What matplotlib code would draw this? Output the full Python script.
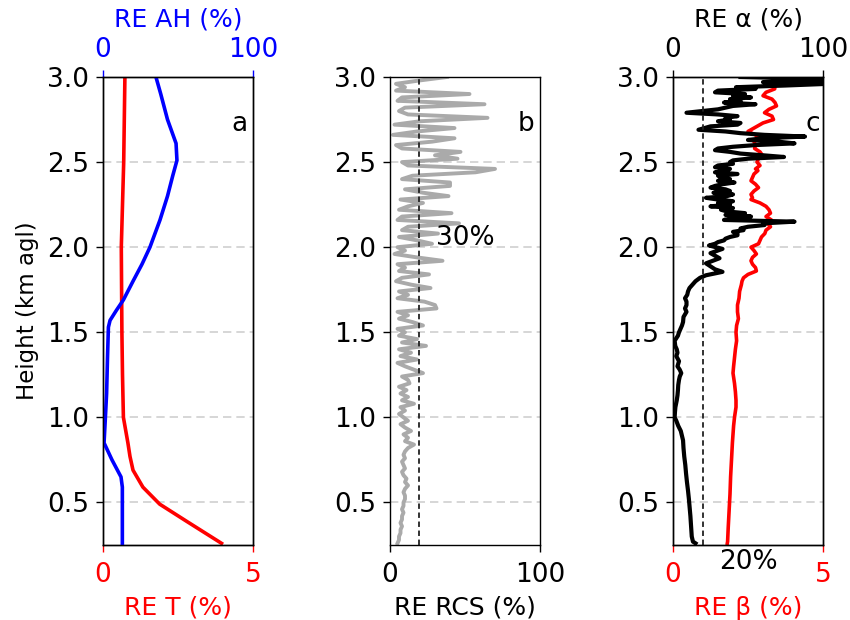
import matplotlib
matplotlib.use('Agg')
import matplotlib.pyplot as plt
import numpy as np

# ---------------- data ----------------
# panel a: relative error of temperature (bottom axis, %) and absolute humidity (top axis, %)
t_height = [0.26, 0.39, 0.49, 0.59, 0.69, 0.77, 0.85, 1.0, 1.25, 1.5, 1.75, 2.0, 2.25, 2.5, 2.75, 3.0]
t_re = [3.95, 2.78, 1.89, 1.33, 1.0, 0.9, 0.83, 0.68, 0.65, 0.63, 0.62, 0.61, 0.65, 0.69, 0.71, 0.73]

ah_height = [0.26, 0.45, 0.59, 0.65, 0.75, 0.85, 1.0, 1.14, 1.35, 1.53, 1.57, 1.63, 1.69, 1.8,
             1.9, 2.0, 2.16, 2.3, 2.42, 2.51, 2.61, 2.75, 2.9, 3.0]
ah_re = [12.9, 12.9, 12.9, 12.0, 6.0, 0.7, 1.6, 2.4, 3.0, 3.6, 4.7, 9.0, 13.6, 20.0,
         26.0, 31.3, 38.0, 43.0, 46.5, 49.3, 48.7, 43.0, 38.5, 35.3]

# panel b: relative error of range-corrected signal (%), from 3.00 km down to 0.26 km
rcs_re = [38, 20, 4, 10, 4, 53, 8, 5, 63, 10,
          6, 12, 65, 20, 3, 43, 18, 2, 43, 28,
          4, 8, 47, 30, 45, 8, 12, 70, 57, 15,
          8, 40, 40, 10, 22, 39, 7, 22, 12, 6,
          41, 8, 5, 46, 12, 8, 32, 6, 18, 28,
          5, 10, 3, 18, 35, 5, 10, 6, 26, 8,
          4, 14, 27, 6, 12, 5, 23, 30, 31, 5,
          12, 6, 15, 22, 5, 10, 6, 18, 8, 24,
          6, 14, 7, 18, 5, 10, 16, 22, 8, 12,
          13, 6, 11, 7, 12, 8, 16, 7, 10, 6,
          9, 12, 7, 10, 14, 9, 12, 10, 16, 12,
          10, 9, 10, 8, 9, 10, 8, 9, 11, 10,
          12, 10, 9, 10, 10, 9, 9, 8, 9, 8,
          8, 7, 8, 7, 7, 6, 6, 5]
rcs_top, rcs_bottom = 3.00, 0.26
rcs_threshold = 19

# panel c: relative error of extinction alpha (top axis) and backscatter beta (bottom axis)
alpha_height = [3.00, 2.99, 2.98, 2.97, 2.96, 2.95, 2.94, 2.93, 2.92, 2.91, 2.90, 2.89, 2.88, 2.87,
                2.86, 2.85, 2.84, 2.83, 2.81, 2.79, 2.78, 2.77, 2.76, 2.75, 2.74, 2.73, 2.72, 2.71,
                2.69, 2.68, 2.67, 2.66, 2.65, 2.64, 2.63, 2.62, 2.61, 2.60, 2.59, 2.58, 2.57, 2.56,
                2.55, 2.54, 2.53, 2.52, 2.51, 2.50, 2.49, 2.48, 2.47, 2.46, 2.45, 2.44, 2.43, 2.42,
                2.41, 2.40, 2.39, 2.38, 2.37, 2.36, 2.35, 2.34, 2.33, 2.32, 2.31, 2.30, 2.29, 2.28,
                2.27, 2.26, 2.25, 2.24, 2.23, 2.22, 2.21, 2.20, 2.19, 2.18, 2.17, 2.16, 2.15, 2.14,
                2.13, 2.12, 2.11, 2.10, 2.09, 2.08, 2.07, 2.06, 2.05, 2.04, 2.03, 2.02, 2.01, 1.99,
                1.965, 1.935, 1.905, 1.87, 1.855, 1.835, 1.82, 1.80, 1.78, 1.76, 1.74, 1.72, 1.70,
                1.68, 1.66, 1.64, 1.62, 1.59, 1.56, 1.54, 1.52, 1.50, 1.48, 1.45, 1.42, 1.40, 1.38,
                1.36, 1.33, 1.30, 1.28, 1.26, 1.24, 1.22, 1.19, 1.16, 1.13, 1.10, 1.06, 1.03, 1.0,
                0.98, 0.95, 0.92, 0.865, 0.82, 0.77, 0.72, 0.67, 0.62, 0.57, 0.52, 0.47, 0.42,
                0.37, 0.33, 0.30, 0.28, 0.27, 0.26]
alpha_re = [45, 95, 102, 60, 104, 75, 42, 55, 30, 28, 48, 40, 52, 38,
            45, 34, 55, 40, 30, 9, 30, 43, 35, 38, 30, 45, 43, 25,
            17, 35, 45, 61, 88, 60, 50, 70, 81, 55, 40, 30, 28, 38,
            45, 60, 74, 50, 40, 38, 40, 30, 28, 38, 35, 28, 43, 30,
            32, 38, 30, 41, 33, 28, 25, 35, 38, 27, 40, 36, 22, 30,
            40, 30, 38, 25, 40, 32, 36, 48, 35, 52, 40, 34, 81, 60,
            61, 50, 45, 47, 40, 43, 43, 38, 35, 34, 30, 28, 24, 33,
            25, 31, 22, 28, 33, 22, 18, 15, 13, 11, 10, 9.5, 8,
            9, 9, 8, 9, 7, 6.7, 6, 5, 4, 3.3, 1.1, 1.5, 2.5, 3,
            2.2, 4, 3, 4.5, 5.5, 4.5, 4, 3.5, 3.3, 3, 2.5, 1.6, 1.3, 1.1,
            2.2, 3.5, 5.2, 6.7, 7.0, 7.5, 8.2, 8.7, 9.3, 10, 10.6, 11.1, 11.6,
            12, 12.3, 12.5, 13, 13.3, 15]

beta_height = [2.97, 2.95, 2.93, 2.91, 2.89, 2.87, 2.85, 2.83, 2.81, 2.79, 2.77, 2.75, 2.73, 2.72,
               2.70, 2.68, 2.66, 2.64, 2.62, 2.60, 2.58, 2.56, 2.54, 2.52, 2.50, 2.48, 2.46, 2.45,
               2.43, 2.41, 2.39, 2.37, 2.35, 2.33, 2.31, 2.29, 2.28, 2.26, 2.24, 2.22, 2.20, 2.18,
               2.16, 2.14, 2.12, 2.10, 2.08, 2.06, 2.04, 2.02, 2.00, 1.98, 1.96, 1.94, 1.92, 1.90,
               1.88, 1.86, 1.84, 1.82, 1.80, 1.78, 1.74, 1.70, 1.66, 1.62, 1.58, 1.54, 1.50, 1.45,
               1.40, 1.35, 1.30, 1.26, 1.20, 1.15, 1.10, 1.06, 1.00, 0.95, 0.90, 0.85, 0.75, 0.65,
               0.55, 0.45, 0.35, 0.27, 0.26]
beta_re = [3.3, 3.4, 3.39, 3.1, 3.0, 3.3, 3.4, 3.45, 3.2, 3.05, 3.3, 3.35, 3.0, 2.9,
           2.7, 2.5, 2.75, 2.85, 2.7, 2.75, 2.72, 2.9, 2.98, 2.85, 2.8, 2.9, 2.75, 2.83,
           2.7, 2.65, 2.6, 2.75, 2.85, 2.7, 2.6, 2.65, 2.6, 2.9, 3.1, 3.2, 3.25, 3.1,
           3.28, 3.15, 3.25, 3.1, 3.06, 2.95, 2.9, 2.85, 2.6, 2.7, 2.78, 2.65, 2.6, 2.65,
           2.75, 2.78, 2.5, 2.35, 2.3, 2.28, 2.22, 2.2, 2.15, 2.15, 2.18, 2.12, 2.1, 2.12,
           2.08, 2.05, 2.02, 2.0, 2.05, 2.08, 2.1, 2.1, 2.05, 2.02, 2.0, 1.98, 1.95, 1.92,
           1.9, 1.87, 1.84, 1.82, 1.81]
alpha_threshold = 20

y_ticks = [0.5, 1.0, 1.5, 2.0, 2.5, 3.0]

# ---------------- style ----------------
plt.rcParams['font.family'] = ['DejaVu Sans']
plt.rcParams['font.size'] = 18
TICK_FS = 19
LABEL_FS = 18
grid_kw = dict(color='#d0d0d0', linestyle=(0, (5, 3)), linewidth=1.2)

fig = plt.figure(figsize=(8.5, 6.2), dpi=100)
W, H = 850, 620
bottom = (H - 545) / H
height = 468 / H
width = 150 / W


def base(ax):
    ax.set_ylim(0.25, 3.0)
    ax.set_yticks(y_ticks)
    ax.set_yticklabels([f'{v:.1f}' for v in y_ticks])
    ax.tick_params(axis='both', length=5, width=1, pad=5, labelsize=TICK_FS)
    for yv in y_ticks[:-1]:
        ax.axhline(yv, zorder=0, **grid_kw)
    for s in ax.spines.values():
        s.set_linewidth(1.0)


# ---- panel a ----
axa = fig.add_axes([103 / W, bottom, width, height])
base(axa)
axa.plot(t_re, t_height, color='red', lw=2.6)
axa.set_xlim(0, 5)
axa.set_xticks([0, 5])
axa.tick_params(axis='x', colors='red', pad=7)
axa.set_xlabel('RE T (%)', color='red', labelpad=6, fontsize=LABEL_FS)
axa.set_ylabel('Height (km agl)', fontsize=16.5, labelpad=6)
axa.text(0.91, 0.90, 'a', transform=axa.transAxes, ha='center', va='center', fontsize=19)
axa2 = axa.twiny()
axa2.plot(ah_re, ah_height, color='blue', lw=2.6)
axa2.set_xlim(0, 100)
axa2.set_xticks([0, 100])
axa2.tick_params(axis='x', colors='blue', length=5, width=1, pad=5, labelsize=TICK_FS)
axa2.set_xlabel('RE AH (%)', color='blue', labelpad=8, fontsize=LABEL_FS)
axa2.set_ylim(0.25, 3.0)
for s in axa2.spines.values():
    s.set_color('black')
    s.set_linewidth(1.0)

# ---- panel b ----
axb = fig.add_axes([390 / W, bottom, width, height])
base(axb)
rcs_height = np.linspace(rcs_top, rcs_bottom, len(rcs_re))
axb.plot(rcs_re, rcs_height, color='#aaaaaa', lw=2.8)
axb.axvline(rcs_threshold, color='#222222', lw=1.3, linestyle=(0, (3, 2)))
axb.set_xlim(0, 100)
axb.set_xticks([0, 100])
axb.tick_params(axis='x', pad=7)
axb.set_xlabel('RE RCS (%)', labelpad=6, fontsize=LABEL_FS)
axb.text(0.91, 0.90, 'b', transform=axb.transAxes, ha='center', va='center', fontsize=19)
axb.text(0.50, 0.655, '30%', transform=axb.transAxes, ha='center', va='center', fontsize=19)

# ---- panel c ----
axc = fig.add_axes([673 / W, bottom, width, height])
base(axc)
axc.plot(beta_re, beta_height, color='red', lw=2.6)
axc.set_xlim(0, 5)
axc.set_xticks([0, 5])
axc.tick_params(axis='x', colors='red', pad=7)
axc.set_xlabel('RE β (%)', color='red', labelpad=6, fontsize=LABEL_FS)
axc.text(0.5, -0.036, '20%', transform=axc.transAxes, ha='center', va='center', fontsize=19)
axc2 = axc.twiny()
axc2.plot(alpha_re, alpha_height, color='black', lw=3.0)
axc2.axvline(alpha_threshold, color='#222222', lw=1.3, linestyle=(0, (3, 2)))
axc2.set_xlim(0, 100)
axc2.set_xticks([0, 100])
axc2.tick_params(axis='x', colors='black', length=5, width=1, pad=5, labelsize=TICK_FS)
axc2.set_xlabel('RE α (%)', labelpad=8, fontsize=LABEL_FS)
axc2.set_ylim(0.25, 3.0)
axc2.text(0.93, 0.90, 'c', transform=axc2.transAxes, ha='center', va='center', fontsize=19)
for s in axc2.spines.values():
    s.set_linewidth(1.0)

fig.savefig('out.png', dpi=100)
